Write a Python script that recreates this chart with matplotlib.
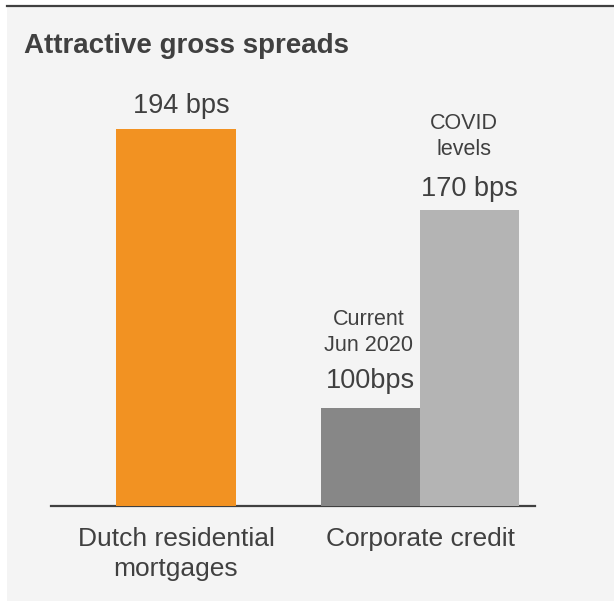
import numpy as np
import matplotlib.pyplot as plt
from matplotlib.patches import Rectangle

# spreads in bps
groups = ['Dutch residential\nmortgages', 'Corporate credit']
mortgage_spread = 194
credit_current = 100
credit_covid = 170
mortgage_label = '194 bps'
current_label = '100bps'
covid_label = '170 bps'
current_note = 'Current\nJun 2020'
covid_note = 'COVID\nlevels'

orange = '#F29222'
dark = '#878787'
light = '#B4B4B4'
txt = '#404040'

plt.rcParams['font.family'] = ['Liberation Sans', 'DejaVu Sans']

W, H = 614, 601
fig = plt.figure(figsize=(W/100, H/100), dpi=100)
fig.patch.set_facecolor('white')

# panel background and top rule
fig.patches.append(Rectangle((7/W, 0), 1, 1-7/H, transform=fig.transFigure,
                             facecolor='#F4F4F4', edgecolor='none', zorder=-5))
fig.add_artist(plt.Line2D([7/W, 1], [1-6/H, 1-6/H], color=txt, lw=1.6))

fig.text(24/W, 1-53/H, 'Attractive gross spreads', fontsize=20, fontweight='bold',
         color=txt, va='baseline', ha='left')

ax = fig.add_axes([51/W, 1-506/H, 484/W, 377/H])
ax.patch.set_alpha(0)

# axis compressed at the low end so the small spread stays readable
base = 40
pw = 1.424
def fwd(v):
    d = np.asarray(v, dtype=float) - base
    return np.sign(d)*np.abs(d)**pw
def inv(u):
    u = np.asarray(u, dtype=float)
    return np.sign(u)*np.abs(u)**(1/pw) + base
ax.set_yscale('function', functions=(fwd, inv))

x = np.arange(len(groups))
ax.bar(x[0], mortgage_spread, width=0.49, color=orange, bottom=0)
ax.bar(x[1]-0.2025, credit_current, width=0.405, color=dark, bottom=0)
ax.bar(x[1]+0.2025, credit_covid, width=0.405, color=light, bottom=0)

ax.set_xlim(-0.512, 1.471)
ax.set_ylim(base, mortgage_spread)

def px(n):
    return n*72/100

ax.annotate(mortgage_label, (x[0]+0.02, mortgage_spread), xytext=(0, px(16)),
            textcoords='offset points', ha='center', va='baseline',
            fontsize=19.5, color=txt, annotation_clip=False)
ax.annotate(current_label, (x[1]-0.2025, credit_current), xytext=(0, px(20)),
            textcoords='offset points', ha='center', va='baseline',
            fontsize=19.5, color=txt, annotation_clip=False)
ax.annotate(covid_label, (x[1]+0.2025, credit_covid), xytext=(0, px(14)),
            textcoords='offset points', ha='center', va='baseline',
            fontsize=19.5, color=txt, annotation_clip=False)
ax.annotate(current_note, (x[1]-0.21, credit_current), xytext=(0, px(57)),
            textcoords='offset points', ha='center', va='baseline',
            fontsize=15.5, color=txt, linespacing=1.3, annotation_clip=False)
ax.annotate(covid_note, (x[1]+0.18, credit_covid), xytext=(0, px(55)),
            textcoords='offset points', ha='center', va='baseline',
            fontsize=15.5, color=txt, linespacing=1.3, annotation_clip=False)

ax.set_xticks(x)
ax.set_xticklabels(groups, fontsize=19, color=txt, linespacing=1.3)
ax.tick_params(axis='x', length=0, pad=px(21))
ax.set_yticks([])
ax.yaxis.set_minor_locator(plt.NullLocator())
for s in ['top', 'left', 'right']:
    ax.spines[s].set_visible(False)
ax.spines['bottom'].set_color(txt)
ax.spines['bottom'].set_linewidth(1.6)
ax.spines['bottom'].set_zorder(0.5)

fig.savefig('out.png', dpi=100, facecolor=fig.get_facecolor())
